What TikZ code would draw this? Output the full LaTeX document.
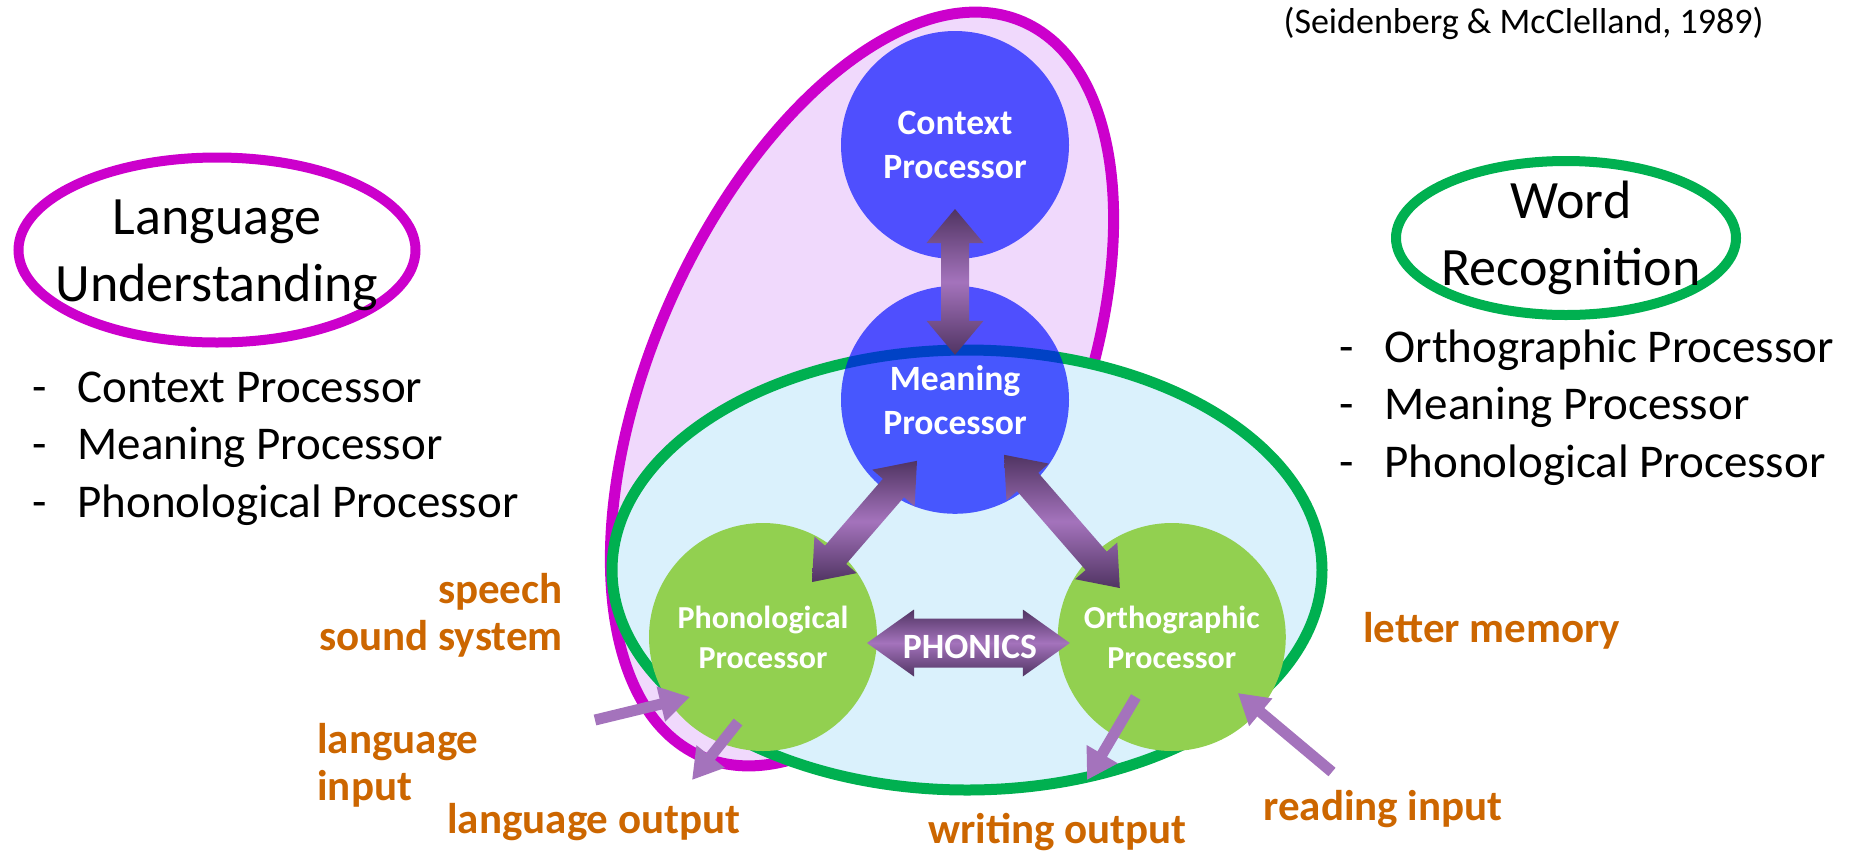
\documentclass[tikz,border=0pt]{standalone}
\usepackage{fontspec}
\setmainfont{Carlito}
\usepackage{tikz}
\usetikzlibrary{positioning}
\usetikzlibrary{calc}
\usetikzlibrary{arrows.meta}
\usetikzlibrary{shapes.geometric}

\definecolor{lumagenta}{RGB}{204,0,204}
\definecolor{lulilac}{RGB}{240,217,252}
\definecolor{wrgreen}{RGB}{0,176,80}
\definecolor{wrsky}{RGB}{218,241,252}
\definecolor{procblue}{RGB}{0,12,255}
\definecolor{procgreen}{RGB}{146,208,80}
\definecolor{linklight}{RGB}{164,115,188}
\definecolor{linkdark}{RGB}{80,52,98}
\definecolor{noteorange}{RGB}{204,102,0}

\newcommand\listdash{\makebox[0.96em][l]{-}}
% block arrow with a head at both ends: from, to, half shaft, half head, head length
\newcommand\fatlink[5]{%
  \shade[fatshade] (#1)
    -- ($(#1)!#5!(#2)!#4!90:(#2)$) -- ($(#1)!#5!(#2)!#3!90:(#2)$)
    -- ($(#2)!#5!(#1)!#3!-90:(#1)$) -- ($(#2)!#5!(#1)!#4!-90:(#1)$)
    -- (#2)
    -- ($(#2)!#5!(#1)!#4!90:(#1)$) -- ($(#2)!#5!(#1)!#3!90:(#1)$)
    -- ($(#1)!#5!(#2)!#3!-90:(#2)$) -- ($(#1)!#5!(#2)!#4!-90:(#2)$)
    -- cycle;}

\begin{document}
\begin{tikzpicture}[x=0.5pt,y=-0.5pt,
    proc/.style={circle,minimum size=114pt,inner sep=0pt,align=center,text=white},
    bigtext/.style={font=\bfseries\fontsize{17.8}{22}\selectfont},
    smalltext/.style={font=\bfseries\fontsize{16}{20}\selectfont},
    ring/.style={ellipse,draw,line width=5pt,inner sep=0pt},
    title/.style={align=center,inner sep=0pt,font=\fontsize{27}{33.5}\selectfont},
    entry/.style={anchor=base west,inner sep=0pt,font=\fontsize{23.5}{28}\selectfont},
    note/.style={anchor=base west,inner sep=0pt,text=noteorange,font=\bfseries\fontsize{21.5}{24}\selectfont},
    fatshade/.style={top color=linkdark,bottom color=linkdark,middle color=linklight},
    thin link/.style={draw=linklight,line width=5.5pt,-{Triangle[length=15pt,width=17pt]}}]
  \useasboundingbox (0,0) rectangle (1858,852);

  % the two big regions
  \draw[lumagenta,line width=5.5pt,fill=lulilac,rotate around={66.3:(862,389)}] (862,389) ellipse [x radius=401,y radius=211];
  \draw[wrgreen,line width=5.5pt,fill=wrsky] (967,570) ellipse [x radius=355,y radius=220];

  % processors
  \node (context) [proc,bigtext,fill=procblue,fill opacity=.67,text opacity=1] at (955,145) {Context\\Processor};
  \node (meaning) [proc,bigtext,fill=procblue,fill opacity=.67,text opacity=1,below=13pt of context] {Meaning\\Processor};
  \node (phono)   [proc,smalltext,fill=procgreen] at (763,637) {Phonological\\Processor};
  \node (ortho)   [proc,smalltext,fill=procgreen,right=90pt of phono] {Orthographic\\Processor};

  % links between processors
  \coordinate (cm-a) at ([shift={(0,64)}]context.center);
  \coordinate (cm-b) at ([shift={(0,-45)}]meaning.center);
  \coordinate (mp-a) at ([shift={(-38,61)}]meaning.center);
  \coordinate (mp-b) at ([shift={(49,-55)}]phono.center);
  \coordinate (mo-a) at ([shift={(49,55)}]meaning.center);
  \coordinate (mo-b) at ([shift={(-52,-49)}]ortho.center);
  \coordinate (ph-a) at ([shift={(104,6)}]phono.center);
  \coordinate (ph-b) at ([shift={(-102,6)}]ortho.center);
  \fatlink{cm-a}{cm-b}{7pt}{14.25pt}{17pt}
  \fatlink{mp-a}{mp-b}{7pt}{14pt}{18pt}
  \fatlink{mo-a}{mo-b}{7pt}{14pt}{18pt}
  \fatlink{ph-a}{ph-b}{12.25pt}{16.75pt}{23.5pt}
  \node (phonics) [anchor=base,inner sep=0pt,text=white,font=\bfseries\fontsize{17.8}{20}\selectfont] at (970,658) {PHONICS};

  % inputs and outputs
  \coordinate (lin)  at (595,720);
  \coordinate (lout) at (692,780);
  \coordinate (wout) at (1087,780);
  \coordinate (rin)  at (1332,772);
  \draw[thin link] (lin) -- ([shift={(-73,60)}]phono.center);
  \draw[thin link] ([shift={(-25,85)}]phono.center) -- (lout);
  \draw[thin link] ([shift={(-36,60)}]ortho.center) -- (wout);
  \draw[thin link] (rin) -- ([shift={(66,56)}]ortho.center);

  % titles
  \node (luring)  [ring,draw=lumagenta,minimum width=198.5pt,minimum height=92.5pt] at (217,250) {};
  \node (lutitle) [title] at (217,255) {Language\\Understanding};
  \node (wrring)  [ring,draw=wrgreen,minimum width=170pt,minimum height=77pt] at (1566,238) {};
  \node (wrtitle) [title] at (1571,238) {Word\\Recognition};

  % lists
  \foreach \entrytext [count=\i] in {Context Processor,Meaning Processor,Phonological Processor}
    \node (lu-\i) [entry] at (32,{402+57.5*(\i-1)}) {\listdash\entrytext};
  \foreach \entrytext [count=\i] in {Orthographic Processor,Meaning Processor,Phonological Processor}
    \node (wr-\i) [entry] at (1339,{362+57.5*(\i-1)}) {\listdash\entrytext};

  \node (cite) [anchor=base east,inner sep=0pt,font=\fontsize{18}{22}\selectfont] at (1764,33) {(Seidenberg \& McClelland, 1989)};

  % orange notes
  \node (speech)   [note,anchor=base east] at (563,603) {speech};
  \node (sound)    [note,anchor=base east] at (563,650) {sound system};
  \node (langin)   [note] at (317,753) {language};
  \node (langin2)  [note] at (317,800) {input};
  \node (langout)  [note] at (447,833) {language output};
  \node (writeout) [note] at (928,843) {writing output};
  \node (readin)   [note] at (1263,820) {reading input};
  \node (letters)  [note] at (1363,642) {letter memory};
\end{tikzpicture}
\end{document}
